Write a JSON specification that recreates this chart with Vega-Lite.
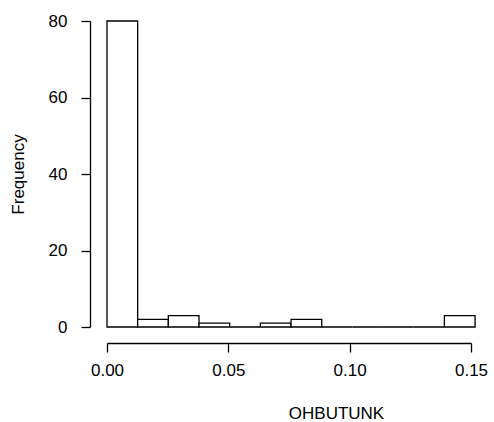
{
  "$schema": "https://vega.github.io/schema/vega-lite/v6.json",
  "width": 364,
  "height": 306,
  "autosize": {"type": "none"},
  "padding": {"left": 107, "top": 21, "right": 23, "bottom": 95},
  "background": "white",
  "data": {
    "values": [
      {"start": 0.0, "end": 0.01264, "count": 80},
      {"start": 0.01264, "end": 0.02528, "count": 2},
      {"start": 0.02528, "end": 0.03792, "count": 3},
      {"start": 0.03792, "end": 0.05056, "count": 1},
      {"start": 0.05056, "end": 0.0632, "count": 0},
      {"start": 0.0632, "end": 0.07584, "count": 1},
      {"start": 0.07584, "end": 0.08848, "count": 2},
      {"start": 0.08848, "end": 0.10112, "count": 0},
      {"start": 0.10112, "end": 0.11376, "count": 0},
      {"start": 0.11376, "end": 0.1264, "count": 0},
      {"start": 0.1264, "end": 0.13904, "count": 0},
      {"start": 0.13904, "end": 0.15168, "count": 3}
    ]
  },
  "mark": {"type": "rect", "fill": "white", "stroke": "black", "strokeWidth": 1.3},
  "encoding": {
    "x": {
      "field": "start",
      "type": "quantitative",
      "scale": {"domain": [0, 0.15], "nice": false, "zero": false},
      "axis": {
        "title": "OHBUTUNK",
        "values": [0, 0.05, 0.1, 0.15],
        "format": ".2f",
        "offset": 16,
        "tickSize": 9,
        "labelPadding": 10,
        "grid": false,
        "domainColor": "black",
        "tickColor": "black",
        "domainWidth": 1.3,
        "tickWidth": 1.3,
        "labelColor": "black",
        "labelFont": "Liberation Sans",
        "labelFontSize": 17,
        "labelFlush": false,
        "titleFont": "Liberation Sans",
        "titleFontSize": 17,
        "titleFontWeight": "normal",
        "titleColor": "black",
        "titleX": 229,
        "titleY": 75,
        "titleAlign": "center",
        "titleBaseline": "alphabetic"
      }
    },
    "x2": {"field": "end"},
    "y": {
      "field": "count",
      "type": "quantitative",
      "scale": {"domain": [0, 80], "nice": false},
      "axis": {
        "title": "Frequency",
        "values": [0, 20, 40, 60, 80],
        "offset": 17,
        "tickSize": 9,
        "labelPadding": 14,
        "grid": false,
        "domainColor": "black",
        "tickColor": "black",
        "domainWidth": 1.3,
        "tickWidth": 1.3,
        "labelColor": "black",
        "labelFont": "Liberation Sans",
        "labelFontSize": 17,
        "labelFlush": false,
        "titleFont": "Liberation Sans",
        "titleFontSize": 17,
        "titleFontWeight": "normal",
        "titleColor": "black",
        "titleX": -72,
        "titleY": 153,
        "titleAlign": "center",
        "titleBaseline": "middle"
      }
    },
    "y2": {"datum": 0}
  },
  "config": {"view": {"stroke": null}}
}
